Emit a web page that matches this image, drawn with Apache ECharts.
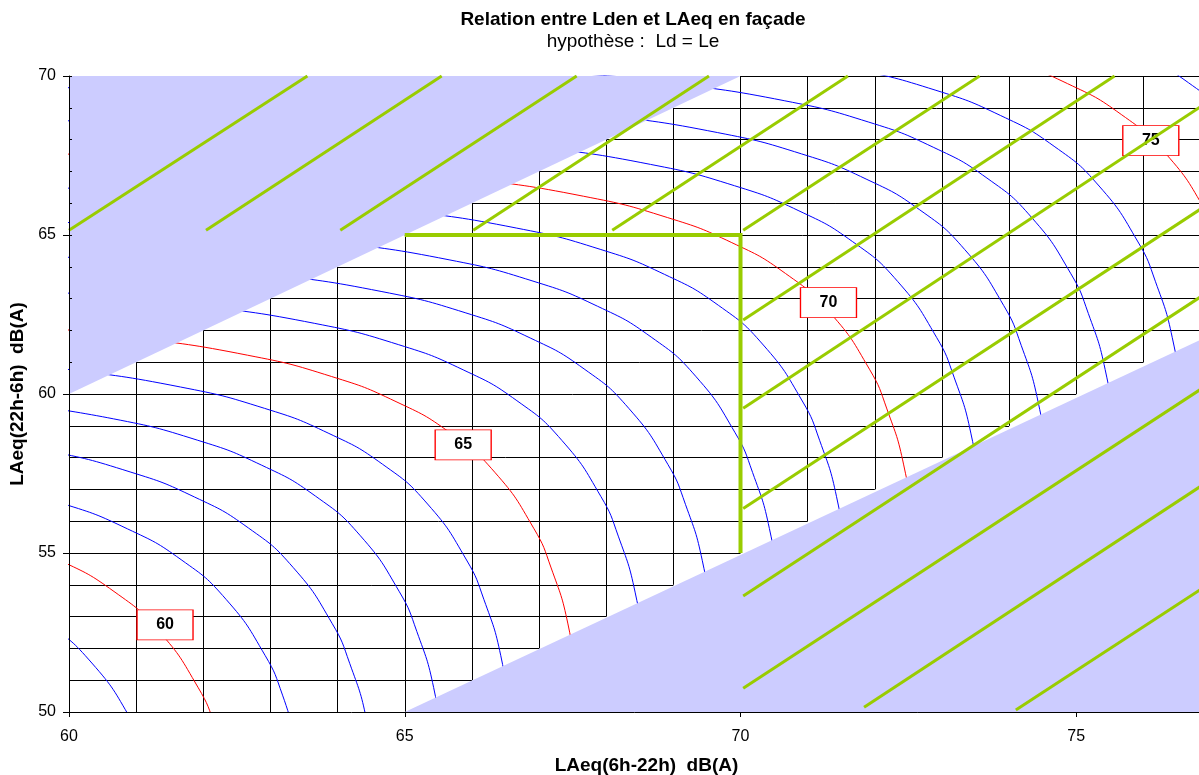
<!DOCTYPE html>
<html lang="fr">
<head>
<meta charset="utf-8">
<title>Relation entre Lden et LAeq en façade</title>
<script src="https://cdn.jsdelivr.net/npm/echarts@6/dist/echarts.min.js"></script>
</head>
<body style="margin:0; background:#fff;">
<div id="main" style="width:1199px; height:775px;"></div>
<script type="text/javascript">

// courbes iso-Lden : [LAeq(6h-22h), LAeq(22h-6h)]
const c59 = [[58.87,53.76],[59.67,52.79],[60.34,51.54],[60.92,49.78],[61.18,48.53]];
const c60 = [[58.91,55.55],[59.87,54.76],[60.67,53.79],[61.34,52.54],[61.92,50.78],[62.18,49.53],[62.43,47.77]];
const c61 = [[58.66,57.22],[59.91,56.55],[60.87,55.76],[61.67,54.79],[62.34,53.54],[62.92,51.78],[63.18,50.53],[63.43,48.77]];
const c62 = [[57.89,58.80],[59.66,58.22],[60.91,57.55],[61.87,56.76],[62.67,55.79],[63.34,54.54],[63.92,52.78],[64.18,51.53],[64.43,49.77],[64.66,46.76]];
const c63 = [[58.89,59.80],[60.66,59.22],[61.91,58.55],[62.87,57.76],[63.67,56.79],[64.34,55.54],[64.92,53.78],[65.18,52.53],[65.43,50.77],[65.66,47.76]];
const c64 = [[58.65,61.07],[59.89,60.80],[61.66,60.22],[62.91,59.55],[63.87,58.76],[64.67,57.79],[65.34,56.54],[65.92,54.78],[66.18,53.53],[66.43,51.77],[66.66,48.76]];
const c65 = [[57.88,62.31],[59.65,62.07],[60.89,61.80],[62.66,61.22],[63.91,60.55],[64.87,59.76],[65.67,58.79],[66.34,57.54],[66.92,55.78],[67.18,54.53],[67.43,52.77],[67.66,49.76]];
const c66 = [[58.88,63.31],[60.65,63.07],[61.89,62.80],[63.66,62.22],[64.91,61.55],[65.87,60.76],[66.67,59.79],[67.34,58.54],[67.92,56.78],[68.18,55.53],[68.43,53.77],[68.66,50.76],[68.80,46.78]];
const c67 = [[56.87,64.55],[59.88,64.31],[61.65,64.07],[62.89,63.80],[64.66,63.22],[65.91,62.55],[66.87,61.76],[67.67,60.79],[68.34,59.54],[68.92,57.78],[69.18,56.53],[69.43,54.77],[69.66,51.76],[69.80,47.78]];
const c68 = [[57.87,65.55],[60.88,65.31],[62.65,65.07],[63.89,64.80],[65.66,64.22],[66.91,63.55],[67.87,62.76],[68.67,61.79],[69.34,60.54],[69.92,58.78],[70.18,57.53],[70.43,55.77],[70.66,52.76],[70.80,48.78]];
const c69 = [[58.87,66.55],[61.88,66.31],[63.65,66.07],[64.89,65.80],[66.66,65.22],[67.91,64.55],[68.87,63.76],[69.67,62.79],[70.34,61.54],[70.92,59.78],[71.18,58.53],[71.43,56.77],[71.66,53.76],[71.80,49.78]];
const c70 = [[55.89,67.68],[59.87,67.55],[62.88,67.31],[64.65,67.07],[65.89,66.80],[67.66,66.22],[68.91,65.55],[69.87,64.76],[70.67,63.79],[71.34,62.54],[71.92,60.78],[72.18,59.53],[72.43,57.77],[72.66,54.76],[72.80,50.78],[72.84,47.77]];
const c71 = [[56.89,68.68],[60.87,68.55],[63.88,68.31],[65.65,68.07],[66.89,67.80],[68.66,67.22],[69.91,66.55],[70.87,65.76],[71.67,64.79],[72.34,63.54],[72.92,61.78],[73.18,60.53],[73.43,58.77],[73.66,55.76],[73.80,51.78],[73.84,48.77]];
const c72 = [[54.88,69.73],[57.89,69.68],[61.87,69.55],[64.88,69.31],[66.65,69.07],[67.89,68.80],[69.66,68.22],[70.91,67.55],[71.87,66.76],[72.67,65.79],[73.34,64.54],[73.92,62.78],[74.18,61.53],[74.43,59.77],[74.66,56.76],[74.80,52.78],[74.84,49.77]];
const c73 = [[58.89,70.68],[62.87,70.55],[65.88,70.31],[67.65,70.07],[68.89,69.80],[70.66,69.22],[71.91,68.55],[72.87,67.76],[73.67,66.79],[74.34,65.54],[74.92,63.78],[75.18,62.53],[75.43,60.77],[75.66,57.76],[75.80,53.78],[75.84,50.77],[75.86,47.76]];
const c74 = [[66.88,71.31],[68.65,71.07],[69.89,70.80],[71.66,70.22],[72.91,69.55],[73.87,68.76],[74.67,67.79],[75.34,66.54],[75.92,64.78],[76.18,63.53],[76.43,61.77],[76.66,58.76],[76.80,54.78],[76.84,51.77],[76.86,48.76]];
const c75 = [[70.89,71.80],[72.66,71.22],[73.91,70.55],[74.87,69.76],[75.67,68.79],[76.34,67.54],[76.92,65.78],[77.18,64.53],[77.43,62.77],[77.66,59.76]];
const c76 = [[73.66,72.22],[74.91,71.55],[75.87,70.76],[76.67,69.79],[77.34,68.54],[77.92,66.78]];

const levels = [59, 60, 61, 62, 63, 64, 65, 66, 67, 68, 69, 70, 71, 72, 73, 74, 75, 76];
const curves = [c59, c60, c61, c62, c63, c64, c65, c66, c67, c68, c69, c70, c71, c72, c73, c74, c75, c76];

// étiquettes des courbes tous les 5 dB
const labelLevels = [60, 65, 70, 75];
const labelPos = [[61.43, 52.74], [65.87, 58.40], [71.31, 62.87], [76.11, 67.97]];

// quadrillage 1 dB, limité à la bande Ln entre Ld-15 et Ld
const gridX = [61, 62, 63, 64, 65, 66, 67, 68, 69, 70, 71, 72, 73, 74, 75, 76, 77];
const gridY = [51, 52, 53, 54, 55, 56, 57, 58, 59, 60, 61, 62, 63, 64, 65, 66, 67, 68, 69, 70];
const bandGap = 15;

// zones exclues (bleu)
const shadeTop = [[60, 60], [60, 70], [70, 70]];
const shadeBottom = [[65, 50], [77.2, 62.05], [77.2, 50]];

// seuils 65 / 70 et hachures vertes
const limitLine = [[65, 65], [70, 65], [70, 55]];
const hatchLines = [
    [[60.00, 65.15], [63.55, 70.00]],
    [[62.04, 65.15], [65.55, 70.00]],
    [[64.04, 65.15], [67.56, 70.00]],
    [[66.02, 65.15], [69.53, 70.00]],
    [[68.09, 65.15], [71.60, 70.00]],
    [[70.04, 65.15], [73.56, 70.00]],
    [[70.04, 62.33], [75.57, 70.00]],
    [[70.04, 59.55], [76.84, 69.02]],
    [[70.04, 56.40], [76.84, 65.80]],
    [[70.04, 53.65], [76.84, 63.04]],
    [[70.04, 50.75], [76.84, 60.13]],
    [[71.84, 50.15], [76.84, 57.08]],
    [[74.10, 50.06], [76.84, 53.84]]
];

const font = '"Liberation Sans", Arial, Helvetica, sans-serif';
const xMax = 77.2;

let myChart = echarts.init(document.getElementById('main'));

let gridSegments = [];
gridX.forEach(function (k) {
    gridSegments.push({coords: [[k, Math.max(50, k - bandGap)], [k, Math.min(70, k)]]});
});
gridY.forEach(function (k) {
    gridSegments.push({coords: [[Math.max(60, k), k], [Math.min(xMax, k + bandGap), k]]});
});

let series = [];
series.push({
    type: 'lines',
    coordinateSystem: 'cartesian2d',
    silent: true,
    z: 1,
    lineStyle: {color: '#000', width: 1, opacity: 1},
    data: gridSegments
});

curves.forEach(function (pts, i) {
    series.push({
        type: 'line',
        name: 'Lden ' + levels[i],
        data: pts,
        smooth: true,
        showSymbol: false,
        symbol: 'none',
        clip: true,
        silent: true,
        z: 2,
        lineStyle: {color: levels[i] % 5 === 0 ? '#ff0000' : '#0000ff', width: 1}
    });
});

const shades = [shadeTop, shadeBottom];
series.push({
    type: 'custom',
    coordinateSystem: 'cartesian2d',
    silent: true,
    z: 3,
    data: shades.map(function (s) { return s[0]; }),
    renderItem: function (params, api) {
        return {
            type: 'polygon',
            shape: {points: shades[params.dataIndex].map(function (p) { return api.coord(p); })},
            style: {fill: '#ccccff'}
        };
    }
});

series.push({
    type: 'scatter',
    silent: true,
    z: 4,
    symbol: 'rect',
    symbolSize: [56, 30],
    itemStyle: {color: '#fff', borderColor: '#ff0000', borderWidth: 1, opacity: 1},
    label: {
        show: true,
        position: 'inside',
        formatter: function (p) { return p.value[2]; },
        fontSize: 16,
        fontWeight: 'bold',
        color: '#000',
        fontFamily: font
    },
    data: labelPos.map(function (p, i) { return [p[0], p[1], String(labelLevels[i])]; })
});

series.push({
    type: 'lines',
    coordinateSystem: 'cartesian2d',
    silent: true,
    z: 5,
    lineStyle: {color: '#99cc00', width: 3, opacity: 1},
    data: hatchLines.map(function (c) { return {coords: c}; })
});

series.push({
    type: 'lines',
    coordinateSystem: 'cartesian2d',
    polyline: true,
    silent: true,
    z: 5,
    lineStyle: {color: '#99cc00', width: 4, opacity: 1},
    data: [{coords: limitLine}]
});

const option = {
    animation: false,
    backgroundColor: '#fff',
    title: [{
        text: 'Relation entre Lden et LAeq en façade',
        left: 633, top: 10, textAlign: 'center', padding: 0,
        textStyle: {fontSize: 19, fontWeight: 'bold', color: '#000', fontFamily: font}
    }, {
        text: 'hypothèse :  Ld = Le',
        left: 633, top: 32, textAlign: 'center', padding: 0,
        textStyle: {fontSize: 19, fontWeight: 'normal', color: '#000', fontFamily: font}
    }],
    grid: {left: 69, top: 76, width: 1155, height: 636, containLabel: false, outerBoundsMode: 'none'},
    xAxis: {
        type: 'value', min: 60, max: xMax, interval: 5, z: 10,
        axisLine: {show: true, lineStyle: {color: '#000', width: 1}},
        axisTick: {show: true, length: 5, lineStyle: {color: '#000'}},
        axisLabel: {margin: 17, fontSize: 16, color: '#000', fontFamily: font, showMaxLabel: false},
        splitLine: {show: false},
        name: 'LAeq(6h-22h)  dB(A)', nameLocation: 'middle', nameGap: 44,
        nameTextStyle: {fontSize: 19, fontWeight: 'bold', color: '#000', fontFamily: font}
    },
    yAxis: [{
        type: 'value', min: 50, max: 70, interval: 5, z: 10,
        axisLine: {show: true, lineStyle: {color: '#000', width: 1}},
        axisTick: {show: true, length: 6, lineStyle: {color: '#000'}},
        axisLabel: {margin: 13, fontSize: 16, color: '#000', fontFamily: font},
        splitLine: {show: false},
        name: 'LAeq(22h-6h)  dB(A)', nameLocation: 'middle', nameGap: 36,
        nameTextStyle: {fontSize: 19, fontWeight: 'bold', color: '#000', fontFamily: font}
    }, {
        type: 'value', min: 50, max: 70, interval: 1, position: 'left', z: 10,
        axisLine: {show: false},
        axisTick: {show: true, inside: true, length: 3, lineStyle: {color: '#000'}},
        axisLabel: {show: false},
        splitLine: {show: false}
    }],
    series: series
};
myChart.setOption(option);
</script>
</body>
</html>
